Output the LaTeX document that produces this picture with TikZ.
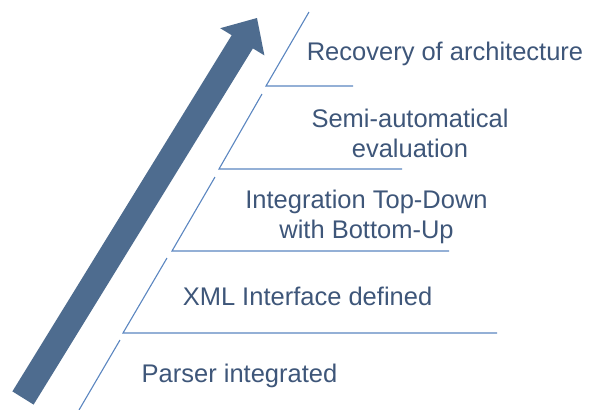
\documentclass[tikz,border=0pt]{standalone}
\usepackage{fontspec}
\setmainfont{Liberation Sans}
\definecolor{arrowblue}{RGB}{78, 108, 143}
\definecolor{textblue}{RGB}{62, 86, 121}
\definecolor{stepblue}{RGB}{91, 134, 192}
\usepackage{tikz}
\usetikzlibrary{calc}

\begin{document}
\begin{tikzpicture}[x=1pt, y=-1pt,
    stepline/.style={stepblue, line width=1.1pt},
    steplabel/.style={text=textblue, anchor=base, align=center, inner sep=0pt,
        font=\fontsize{25.5}{30}\selectfont}]
                \useasboundingbox (0,0) rectangle (590,410);

                % Big arrow
                \fill[arrowblue] (12.4,391.4) -- (231.7,35.2) -- (220.2,28.2) -- (257,18)
                    -- (264.4,55.4) -- (252.9,48.4) -- (33.6,404.6) -- cycle;

                % Steps
                \draw[stepline] (79,410) -- (120,340);
                \draw[stepline] (167,258) -- (123,333) -- (497,333);
                \draw[stepline] (215,177) -- (172,251) -- (449,251);
                \draw[stepline] (262,94) -- (219,169) -- (402,169);
                \draw[stepline] (309,12) -- (266,86) -- (353,86);

                % Labels (base = last line)
                \node[steplabel] (parser) at (239.5,382) {Parser integrated};
                \node[steplabel] (xml) at (307.5,305) {XML Interface defined};
                \node[steplabel] (integration) at (366.5,238) {Integration Top-Down\\with Bottom-Up};
                \node[steplabel] (semi) at (410,157) {Semi-automatical\\evaluation};
                \node[steplabel] (recovery) at (445,60) {Recovery of architecture};
            \end{tikzpicture}
\end{document}
